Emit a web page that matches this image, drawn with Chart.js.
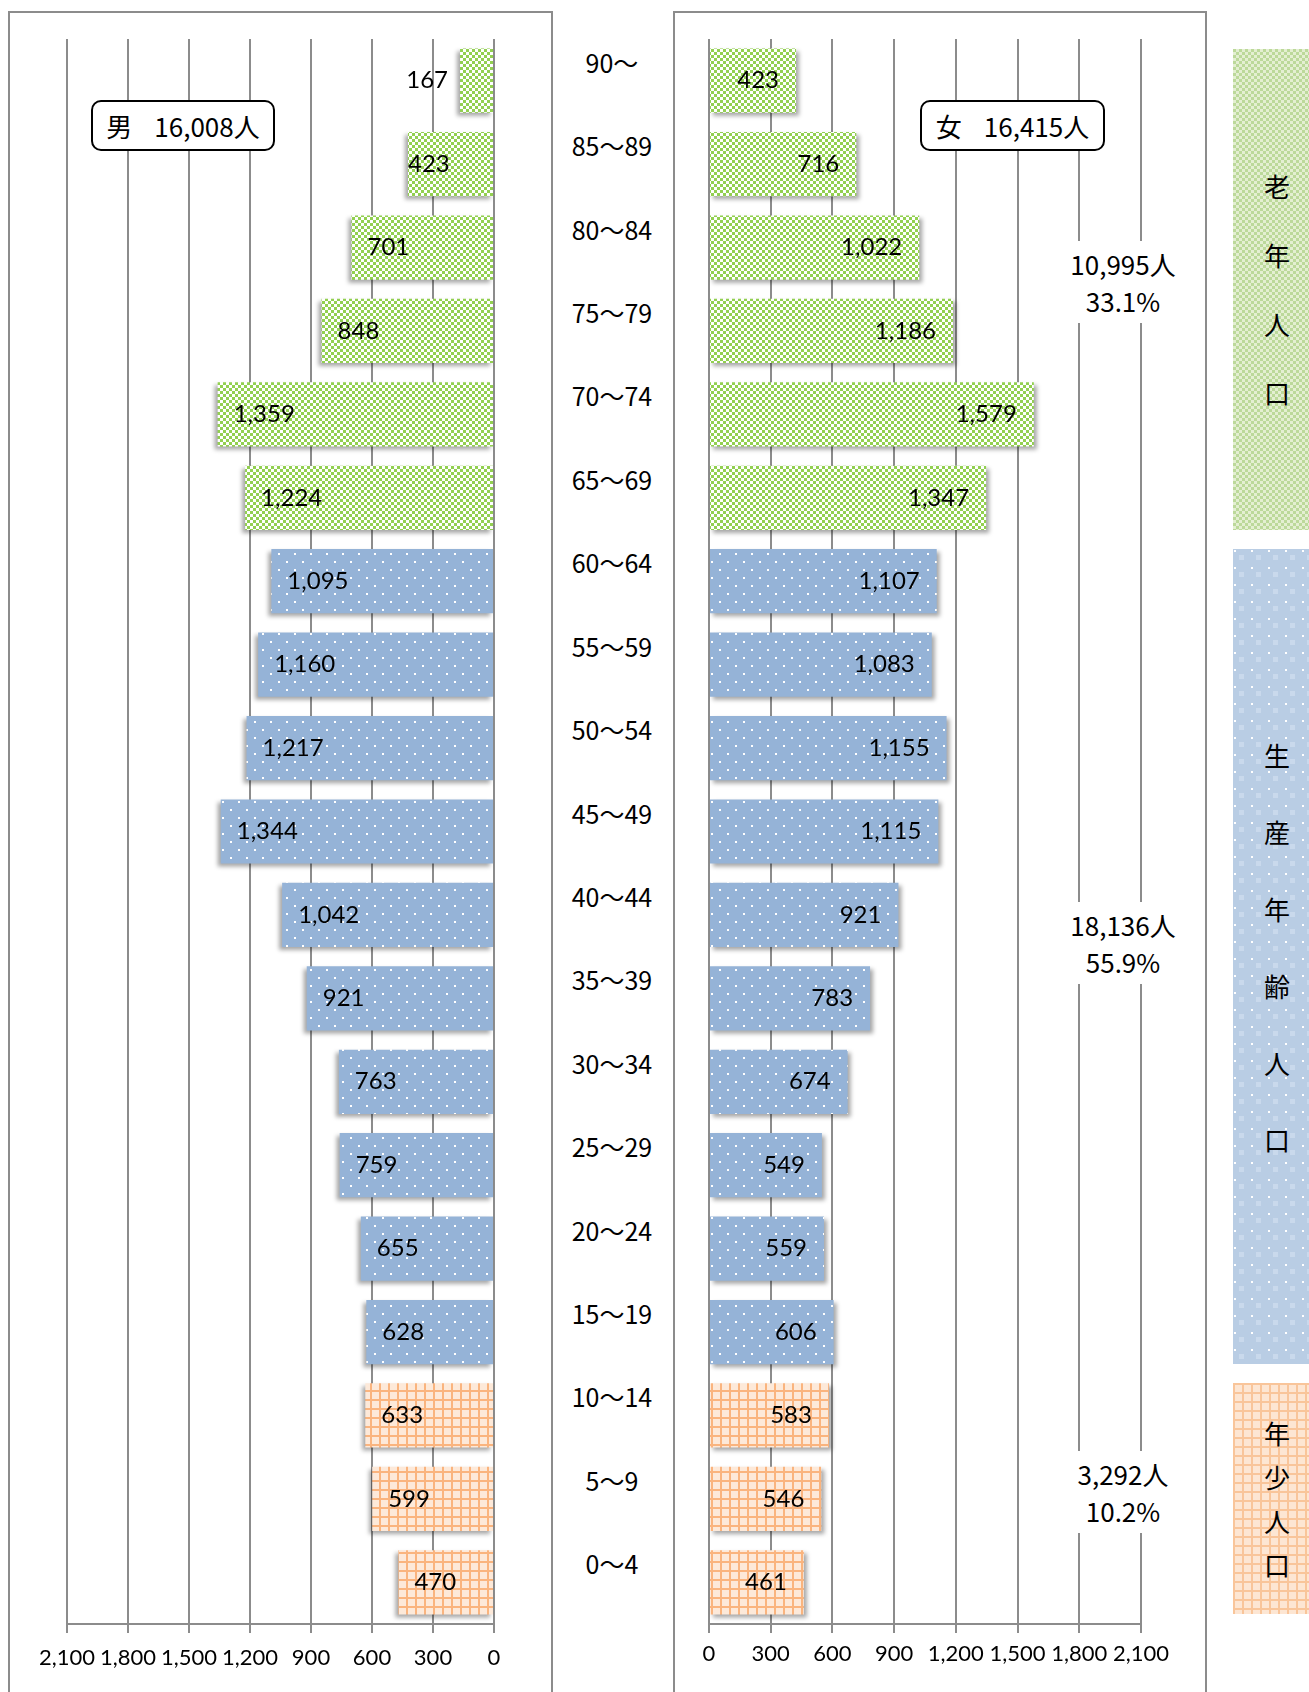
<!DOCTYPE html>
<html lang="ja">
<head>
<meta charset="utf-8">
<title>人口ピラミッド</title>
<script src="https://cdn.jsdelivr.net/npm/chart.js@4.4.1/dist/chart.umd.min.js"></script>
<style>
  html, body { margin: 0; padding: 0; background: #fff; }
  body { position: relative; width: 1309px; height: 1692px; overflow: hidden;
         font-family: "Noto Sans CJK JP", "Noto Sans", sans-serif; color: #000; }
  canvas { position: absolute; }
  .panel { position: absolute; border: 2px solid #8c8c8c; border-bottom: none; box-sizing: border-box; }
  .age { position: absolute; left: 551px; width: 122px; text-align: center; font-size: 25px;
         line-height: 30px; transform: translateY(-50%); white-space: nowrap; }
  .total { position: absolute; top: 100px; height: 51px; box-sizing: border-box; border: 2px solid #000;
           border-radius: 10px; background: #fff; font-size: 26px; line-height: 47px; text-align: center;
           white-space: nowrap; }
  .total span { margin-right: 22px; }
  .sum { position: absolute; left: 1063px; width: 120px; background: #fff; text-align: center;
         font-size: 26px; line-height: 37px; padding: 4px 0; transform: translateY(-50%); white-space: nowrap; }
  .band { position: absolute; left: 1233px; width: 88px; display: flex; flex-direction: column;
          justify-content: center; align-items: center; font-size: 26px; }
</style>
</head>
<body>
<div class="panel" style="left:8px; top:11px; width:545px; height:1700px;"></div>
<div class="panel" style="left:673px; top:11px; width:534px; height:1700px;"></div>
<canvas id="male" width="540" height="1679" style="left:10px; top:13px;"></canvas>
<canvas id="female" width="528" height="1679" style="left:675px; top:13px;"></canvas>
<div class="total" style="left:91px; width:184px;"><span>男</span>16,008人</div>
<div class="total" style="left:920px; width:185px;"><span>女</span>16,415人</div>

<script>
const ages = ['90～', '85～89', '80～84', '75～79', '70～74', '65～69', '60～64', '55～59', '50～54',
  '45～49', '40～44', '35～39', '30～34', '25～29', '20～24', '15～19', '10～14', '5～9', '0～4'];
const maleCounts = [167, 423, 701, 848, 1359, 1224, 1095, 1160, 1217, 1344, 1042, 921, 763, 759, 655, 628, 633, 599, 470];
const femaleCounts = [423, 716, 1022, 1186, 1579, 1347, 1107, 1083, 1155, 1115, 921, 783, 674, 549, 559, 606, 583, 546, 461];
const ageGroups = ['old', 'old', 'old', 'old', 'old', 'old',
  'work', 'work', 'work', 'work', 'work', 'work', 'work', 'work', 'work', 'work',
  'young', 'young', 'young'];
const tickValues = [0, 300, 600, 900, 1200, 1500, 1800, 2100];

const groupKeys = ['old', 'work', 'young'];
const groupNames = ['老年人口', '生産年齢人口', '年少人口'];
const groupCounts = ['10,995人', '18,136人', '3,292人'];
const groupShares = ['33.1%', '55.9%', '10.2%'];

// caption layout per band (line spacing, vertical nudge)
const bandLineHeight = { old: 69, work: 77, young: 44 };
const bandTextShift = { old: 0, work: -10, young: 0 };
const sumShift = { old: -7, work: -14, young: -7 };

const numFont = 'Lato, "Open Sans", sans-serif';
const gridColor = '#8c8c8c';

// small canvas tiles used as fills
function tile(w, h, paint) {
  const c = document.createElement('canvas');
  c.width = w; c.height = h;
  paint(c.getContext('2d'));
  return c;
}

const barTiles = {
  old: tile(6, 6, g => {
    g.fillStyle = '#fff'; g.fillRect(0, 0, 6, 6);
    g.fillStyle = '#92d050'; g.fillRect(0, 0, 3, 3); g.fillRect(3, 3, 3, 3);
  }),
  work: tile(16, 16, g => {
    g.fillStyle = '#95b3d7'; g.fillRect(0, 0, 16, 16);
    g.fillStyle = '#fff'; g.fillRect(4, 4, 2, 2); g.fillRect(12, 12, 2, 2);
  }),
  young: tile(9, 9, g => {
    g.fillStyle = '#fde9d9'; g.fillRect(0, 0, 9, 9);
    g.fillStyle = '#fab47e'; g.fillRect(0, 0, 9, 2); g.fillRect(0, 0, 2, 9);
  })
};

const bandTiles = {
  old: tile(6, 6, g => {
    g.fillStyle = '#e4efd2'; g.fillRect(0, 0, 6, 6);
    g.fillStyle = '#bcd99a'; g.fillRect(0, 0, 3, 3); g.fillRect(3, 3, 3, 3);
  }),
  work: tile(17, 17, g => {
    g.fillStyle = '#b9cde4'; g.fillRect(0, 0, 17, 17);
    g.fillStyle = '#c9d9ec'; g.fillRect(6, 6, 5, 5);
    g.fillStyle = '#fff'; g.fillRect(1, 1, 2, 2);
  }),
  young: tile(9, 9, g => {
    g.fillStyle = '#fde6d3'; g.fillRect(0, 0, 9, 9);
    g.fillStyle = '#f9c59a'; g.fillRect(0, 0, 9, 2); g.fillRect(0, 0, 2, 9);
  })
};

function fillFor(ctx) {
  return ctx.chart.ctx.createPattern(barTiles[ageGroups[ctx.dataIndex]], 'repeat');
}

// drop shadow under the bars, then the value labels
const barDeco = {
  id: 'barDeco',
  beforeDatasetsDraw(chart, args, opts) {
    const c = chart.ctx;
    c.save();
    c.shadowColor = 'rgba(0,0,0,0.35)';
    c.shadowBlur = 4;
    c.shadowOffsetX = opts.side === 'left' ? -3 : 3;
    c.shadowOffsetY = 3;
  },
  afterDatasetsDraw(chart, args, opts) {
    const c = chart.ctx;
    c.restore();
    const values = chart.data.datasets[0].data;
    c.save();
    c.font = '24px ' + numFont;
    c.fillStyle = '#000';
    c.textBaseline = 'middle';
    chart.getDatasetMeta(0).data.forEach((bar, i) => {
      const txt = values[i].toLocaleString('en-US');
      const tw = c.measureText(txt).width;
      const len = Math.abs(bar.base - bar.x);
      if (opts.side === 'left') {
        if (len > tw + 50) {
          c.textAlign = 'left';
          c.fillText(txt, bar.x + 16, bar.y);
        } else if (len > tw) {
          c.textAlign = 'left';
          c.fillText(txt, bar.x, bar.y);
        } else {
          c.textAlign = 'right';
          c.fillText(txt, bar.x - 12, bar.y);
        }
      } else {
        c.textAlign = 'right';
        c.fillText(txt, bar.x - 17, bar.y);
      }
    });
    c.restore();
  }
};

function pyramidOptions(side, padding, tickPad) {
  return {
    indexAxis: 'y',
    responsive: false,
    animation: false,
    layout: { padding: padding },
    plugins: {
      legend: { display: false },
      tooltip: { enabled: false },
      barDeco: { side: side }
    },
    scales: {
      x: {
        reverse: side === 'left',
        min: 0,
        max: 2100,
        afterBuildTicks: s => { s.ticks = tickValues.map(v => ({ value: v })); },
        afterFit: s => { s.height = 68; },
        grid: { color: gridColor, lineWidth: 2, tickLength: 9 },
        border: { color: gridColor, width: 2 },
        ticks: {
          color: '#000',
          padding: tickPad,
          autoSkip: false,
          maxRotation: 0,
          minRotation: 0,
          font: { family: numFont, size: 22 },
          callback: v => v.toLocaleString('en-US')
        }
      },
      y: { display: false }
    }
  };
}

const maleChart = new Chart(document.getElementById('male'), {
  type: 'bar',
  data: {
    labels: ages,
    datasets: [{
      label: '男',
      data: maleCounts,
      backgroundColor: fillFor,
      borderWidth: 0,
      categoryPercentage: 1,
      barPercentage: 0.77
    }]
  },
  options: pyramidOptions('left', { left: 57, right: 56, top: 26, bottom: 0 }, 12),
  plugins: [barDeco]
});

const femaleChart = new Chart(document.getElementById('female'), {
  type: 'bar',
  data: {
    labels: ages,
    datasets: [{
      label: '女',
      data: femaleCounts,
      backgroundColor: fillFor,
      borderWidth: 0,
      categoryPercentage: 1,
      barPercentage: 0.77
    }]
  },
  options: pyramidOptions('right', { left: 34, right: 62, top: 26, bottom: 0 }, 8),
  plugins: [barDeco]
});

// age labels between the two halves
const canvasTop = 13;
ages.forEach((a, i) => {
  const d = document.createElement('div');
  d.className = 'age';
  d.textContent = a;
  d.style.top = (canvasTop + maleChart.scales.y.getPixelForValue(i) - 19) + 'px';
  document.body.appendChild(d);
});

// group bands and group totals, spanning the bars of each group
const fBars = femaleChart.getDatasetMeta(0).data;
groupKeys.forEach((key, g) => {
  let top = Infinity, bottom = -Infinity;
  fBars.forEach((bar, i) => {
    if (ageGroups[i] !== key) return;
    top = Math.min(top, bar.y - bar.height / 2);
    bottom = Math.max(bottom, bar.y + bar.height / 2);
  });
  top += canvasTop; bottom += canvasTop;

  const band = document.createElement('div');
  band.className = 'band';
  band.style.top = top + 'px';
  band.style.height = (bottom - top) + 'px';
  band.style.backgroundImage = 'url(' + bandTiles[key].toDataURL() + ')';
  band.style.lineHeight = bandLineHeight[key] + 'px';
  band.style.paddingBottom = (-2 * bandTextShift[key]) + 'px';
  band.style.boxSizing = 'border-box';
  band.innerHTML = groupNames[g].split('').map(ch => '<div>' + ch + '</div>').join('');
  document.body.appendChild(band);

  const sum = document.createElement('div');
  sum.className = 'sum';
  sum.style.top = ((top + bottom) / 2 + sumShift[key]) + 'px';
  sum.innerHTML = groupCounts[g] + '<br>' + groupShares[g];
  document.body.appendChild(sum);
});
</script>
</body>
</html>
